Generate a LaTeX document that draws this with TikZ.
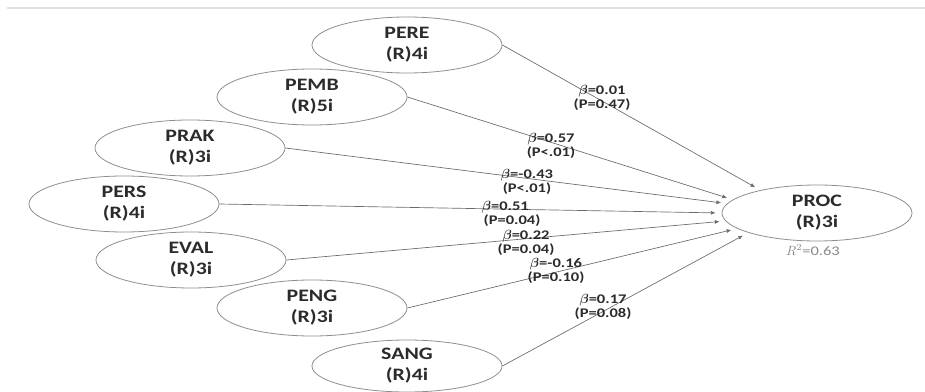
\documentclass[tikz,border=0pt]{standalone}
\usepackage{fontspec}
\usepackage{bm}
\setmainfont[FakeStretch=1.25]{Carlito}
\usetikzlibrary{shapes.geometric,arrows.meta}
\definecolor{edgecol}{HTML}{6A6A6A}
\definecolor{outline}{HTML}{8E8E8E}
\definecolor{txt}{HTML}{2B2B2B}
\definecolor{rulecol}{HTML}{E2E2E2}
\definecolor{rsq}{HTML}{8A8A8A}
\begin{document}
\begin{tikzpicture}[x=0.75pt,y=-0.75pt,
  latent/.style={ellipse,draw=outline,line width=0.6pt,minimum width=142.5pt,
    minimum height=42pt,inner sep=0pt,align=center,text=txt,
    font=\fontsize{13.1pt}{15.75pt}\selectfont\bfseries},
  effect/.style={draw=edgecol,line width=0.5pt,-{Latex[length=3.5pt,width=3pt]},shorten >=4.5pt},
  coef/.style={align=center,inner sep=0pt,text=txt,
    font=\fontsize{9.9pt}{9.2pt}\selectfont\bfseries},
]
\useasboundingbox (0,0) rectangle (925,392);
\draw[rulecol,line width=1.2pt] (7,8) -- (925,8);

\node[latent] (pere) at (407,45) {PERE\\(R)4i};
\node[latent] (pemb) at (312,97) {PEMB\\(R)5i};
\node[latent] (prak) at (190,148) {PRAK\\(R)3i};
\node[latent] (pers) at (124,204) {PERS\\(R)4i};
\node[latent] (eval) at (191,260) {EVAL\\(R)3i};
\node[latent] (peng) at (312,308) {PENG\\(R)3i};
\node[latent,minimum height=39pt] (sang) at (407,366) {SANG\\(R)4i};
\node[latent] (proc) at (817,213) {PROC\\(R)3i};
\node[text=rsq,inner sep=0pt,font=\fontsize{9.9pt}{11pt}\selectfont] (r2) at (813,250) {$R^2$=0.63};

\draw[effect] (pere.east) -- (proc.158);
\draw[effect] (pemb.east) -- (proc.171);
\draw[effect] (prak.east) -- (proc.174);
\draw[effect] (pers.east) -- (proc.180);
\draw[effect] (eval.east) -- (proc.185);
\draw[effect] (peng.east) -- (proc.191);
\draw[effect] (sang.east) -- (proc.196);

\node[coef] (c1) at (602,98) {$\bm{\beta}$=0.01\\(P=0.47)};
\node[coef] (c2) at (551,146) {$\bm{\beta}$=0.57\\(P<.01)};
\node[coef] (c3) at (527,182) {$\bm{\beta}$=-0.43\\(P<.01)};
\node[coef] (c4) at (512,214) {$\bm{\beta}$=0.51\hspace*{10pt}\\(P=0.04)};
\node[coef] (c5) at (526,243) {$\bm{\beta}$=0.22\\(P=0.04)};
\node[coef] (c6) at (556,271) {$\bm{\beta}$=-0.16\\(P=0.10)};
\node[coef] (c7) at (603,307) {$\bm{\beta}$=0.17\\(P=0.08)};
\end{tikzpicture}
\end{document}
